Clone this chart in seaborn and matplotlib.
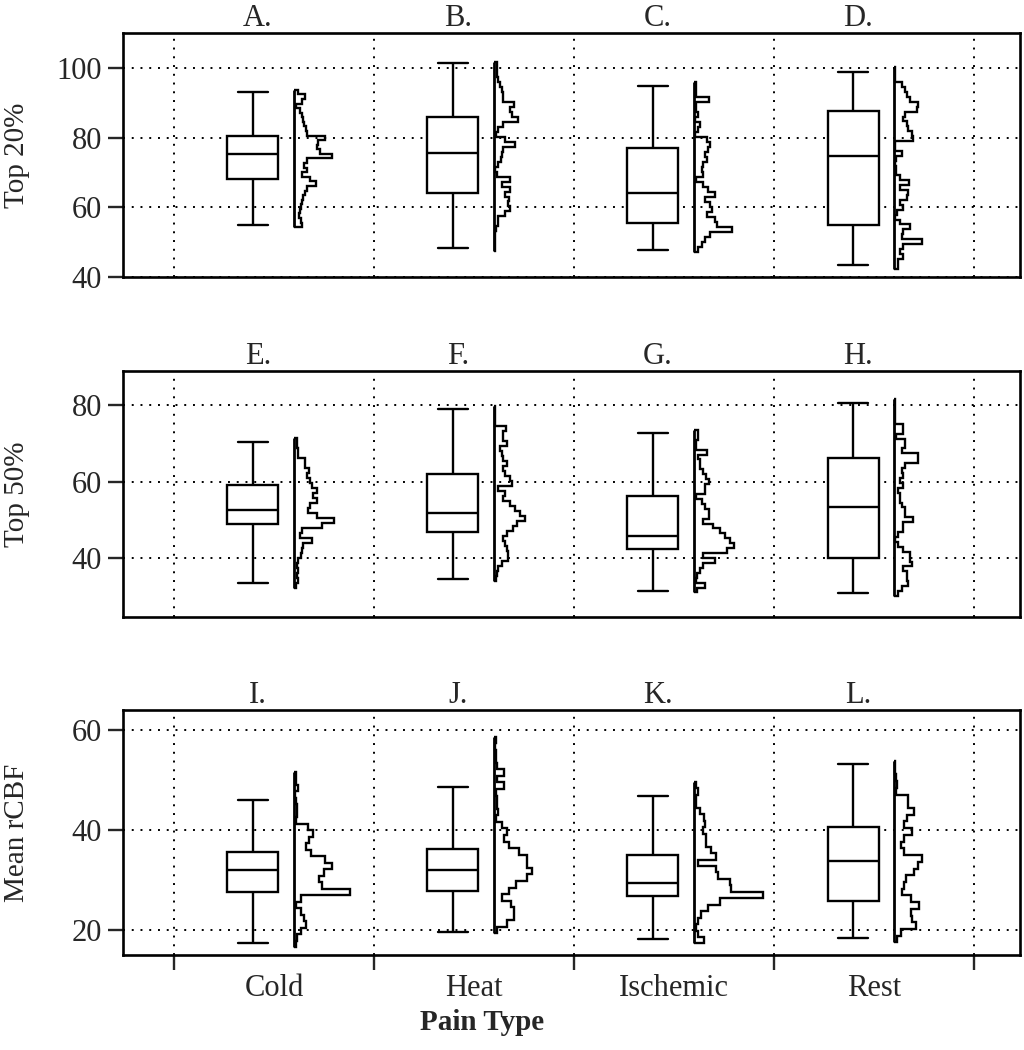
import numpy as np
import pandas as pd
import matplotlib
matplotlib.use("Agg")
import matplotlib.pyplot as plt
from matplotlib.transforms import blended_transform_factory
import seaborn as sns

pain_types = ["Cold", "Heat", "Ischemic", "Rest"]
row_labels = ["Top 20%", "Top 50%", "Mean rCBF"]
panel_letters = [["A.", "B.", "C.", "D."],
                 ["E.", "F.", "G.", "H."],
                 ["I.", "J.", "K.", "L."]]

# five numbers per box: low whisker, Q1, median, Q3, high whisker
box_top20 = [[54.8, 68.1, 75.4, 80.5, 93.1],
             [48.3, 64.0, 75.5, 85.9, 101.4],
             [47.7, 55.5, 64.1, 76.9, 94.8],
             [43.3, 54.9, 74.6, 87.7, 98.9]]
box_top50 = [[33.6, 48.8, 52.5, 59.1, 70.3],
             [34.4, 46.8, 51.9, 62.0, 79.0],
             [31.5, 42.4, 45.8, 56.3, 72.8],
             [30.8, 40.1, 53.3, 66.1, 80.5]]
box_mean = [[17.3, 27.5, 31.9, 35.6, 45.9],
            [19.5, 27.8, 31.9, 36.2, 48.5],
            [18.1, 26.7, 29.3, 35.0, 46.8],
            [18.4, 25.7, 33.7, 40.5, 53.2]]

# histogram span (low, high) and bin counts from bottom to top
hist_range_top20 = [(54.3, 93.7), (47.4, 101.6), (47.3, 95.8), (42.4, 100.1)]
hist_counts_top20 = [
    [8, 7, 5, 6, 7, 8, 9, 11, 13, 22, 16, 8, 13, 10, 13, 38, 26, 23, 24, 31, 13, 12, 10, 9, 8, 6, 2, 8, 11, 4],
    [1, 1, 1, 1, 2, 4, 4, 11, 16, 14, 15, 11, 16, 8, 16, 3, 1, 4, 7, 8, 9, 21, 11, 2, 4, 9, 24, 18, 16, 20, 9, 9, 8, 6, 4, 3, 3, 3],
    [4, 8, 11, 16, 38, 23, 21, 13, 18, 16, 11, 21, 14, 9, 2, 9, 8, 9, 13, 11, 14, 16, 13, 1, 4, 6, 1, 4, 2, 2, 15, 2, 2, 2],
    [4, 4, 9, 6, 9, 28, 8, 9, 16, 6, 1, 3, 9, 6, 13, 14, 6, 15, 6, 2, 2, 1, 2, 8, 1, 1, 19, 18, 14, 13, 9, 11, 23, 24, 16, 13, 11, 8, 1, 1, 1],
]
hist_range_top50 = [(32.1, 71.4), (34.0, 79.7), (31.0, 73.5), (30.1, 81.5)]
hist_counts_top50 = [
    [2, 4, 3, 4, 3, 4, 7, 8, 9, 18, 6, 8, 28, 40, 23, 14, 16, 23, 19, 23, 18, 16, 13, 15, 11, 11, 4, 4, 3, 3],
    [2, 3, 4, 8, 14, 14, 13, 11, 9, 13, 19, 23, 31, 26, 21, 16, 9, 11, 4, 18, 16, 11, 9, 13, 9, 8, 6, 13, 9, 9, 12, 1, 1, 1, 1],
    [3, 11, 2, 3, 6, 9, 21, 9, 33, 40, 36, 31, 26, 19, 9, 15, 15, 11, 8, 2, 11, 11, 15, 12, 9, 6, 6, 4, 13, 2, 2, 4, 4],
    [4, 8, 14, 13, 13, 9, 18, 16, 16, 9, 4, 1, 4, 9, 9, 19, 11, 11, 8, 6, 6, 4, 9, 6, 9, 8, 11, 24, 24, 8, 11, 11, 2, 9, 9, 1, 1, 1, 1, 1],
]
hist_range_mean = [(16.5, 51.7), (19.3, 58.7), (17.3, 49.6), (17.5, 53.8)]
hist_counts_mean = [
    [2, 3, 7, 12, 10, 7, 2, 7, 56, 28, 25, 30, 38, 31, 17, 12, 15, 19, 14, 2, 3, 3, 2, 1, 4, 2, 2],
    [3, 13, 20, 20, 17, 8, 15, 22, 33, 38, 33, 33, 25, 15, 10, 13, 8, 2, 4, 3, 3, 2, 10, 3, 10, 3, 2, 2, 1, 2],
    [10, 4, 2, 4, 7, 14, 26, 69, 37, 36, 24, 22, 4, 22, 17, 12, 12, 9, 11, 10, 6, 2, 2, 4, 2],
    [3, 7, 22, 18, 17, 25, 17, 8, 10, 12, 20, 24, 28, 10, 7, 10, 18, 10, 13, 20, 14, 14, 2, 3, 2, 1, 1],
]

y_limits = [(40, 110), (24.6, 88.9), (15, 64)]
y_ticks = [[40, 60, 80, 100], [40, 60, 80], [20, 40, 60]]

boxes = [box_top20, box_top50, box_mean]
hist_ranges = [hist_range_top20, hist_range_top50, hist_range_mean]
hist_counts = [hist_counts_top20, hist_counts_top50, hist_counts_mean]

sns.set_style("white")
plt.rcParams["font.family"] = ["Liberation Serif", "DejaVu Serif"]
plt.rcParams["axes.edgecolor"] = "black"
plt.rcParams["axes.linewidth"] = 1.9

FS = 22
LW = 1.7
BOX_W = 0.255
CAP_W = 0.15
BOX_SHIFT = -0.105
HIST_SHIFT = 0.1
HIST_UNIT = 0.005

fig = plt.figure(figsize=(10.24, 10.5), dpi=100)
rects = [[0.1201, 0.7362, 0.876, 0.2324],
         [0.1201, 0.4124, 0.876, 0.2343],
         [0.1201, 0.0905, 0.876, 0.2333]]

for r in range(3):
    ax = fig.add_axes(rects[r])
    ax.set_axisbelow(True)
    df = pd.DataFrame({
        "pos": np.repeat(np.arange(4) + BOX_SHIFT, 5),
        "value": np.ravel(boxes[r]),
    })
    sns.boxplot(data=df, x="pos", y="value", native_scale=True, orient="x",
                width=BOX_W, whis=(0, 100), color="white", linecolor="black",
                linewidth=LW, ax=ax)

    # widen the whisker caps a little
    for line in ax.lines:
        xd = np.asarray(line.get_xdata(), dtype=float)
        yd = np.asarray(line.get_ydata(), dtype=float)
        if len(xd) == 2 and yd[0] == yd[1] and abs(abs(xd[1] - xd[0]) - BOX_W / 2) < 1e-6:
            mid = xd.mean()
            line.set_xdata([mid - CAP_W / 2, mid + CAP_W / 2])

    for i in range(4):
        lo, hi = hist_ranges[r][i]
        counts = np.array(hist_counts[r][i], dtype=float)
        edges = np.linspace(lo, hi, len(counts) + 1)
        base = i + HIST_SHIFT
        ax.stairs(base + counts * HIST_UNIT, edges, baseline=base,
                  orientation="horizontal", color="black", lw=LW)
        ax.vlines(base, lo, hi, color="black", lw=2.0)

    ax.set_xlim(-0.755, 3.73)
    ax.set_ylim(*y_limits[r])
    ax.set_yticks(y_ticks[r])
    ax.set_xticks([-0.5, 0.5, 1.5, 2.5, 3.5])
    ax.set_xticklabels([])
    ax.grid(True, which="major", color="black", linestyle=(0, (1, 3.5)), linewidth=1.4)
    ax.tick_params(axis="y", direction="out", length=11, width=1.7, labelsize=FS,
                   left=True, pad=4)
    ax.set_xlabel("")
    ax.set_ylabel("")

    if r == 2:
        ax.set_xticks(np.arange(4), minor=True)
        ax.set_xticklabels(pain_types, minor=True, fontsize=FS)
        ax.tick_params(axis="x", which="major", direction="out", length=11, width=1.7, bottom=True)
        ax.tick_params(axis="x", which="minor", length=0, pad=14)
    else:
        ax.tick_params(axis="x", which="both", length=0, labelbottom=False)

    trans = blended_transform_factory(ax.transData, ax.transAxes)
    for i, letter in enumerate(panel_letters[r]):
        ax.annotate(letter, xy=(i - 0.08, 1.0), xycoords=trans, xytext=(0, 5),
                    textcoords="offset points", ha="center", va="baseline", fontsize=FS)

    fig.text(17 / 1024, rects[r][1] + rects[r][3] / 2, row_labels[r], rotation=90,
             ha="center", va="center", fontsize=21)

fig.text(482 / 1024, 1 - 1022 / 1050, "Pain Type", ha="center", va="center",
         fontsize=21, fontweight="bold")

fig.savefig("out.png", dpi=100)
